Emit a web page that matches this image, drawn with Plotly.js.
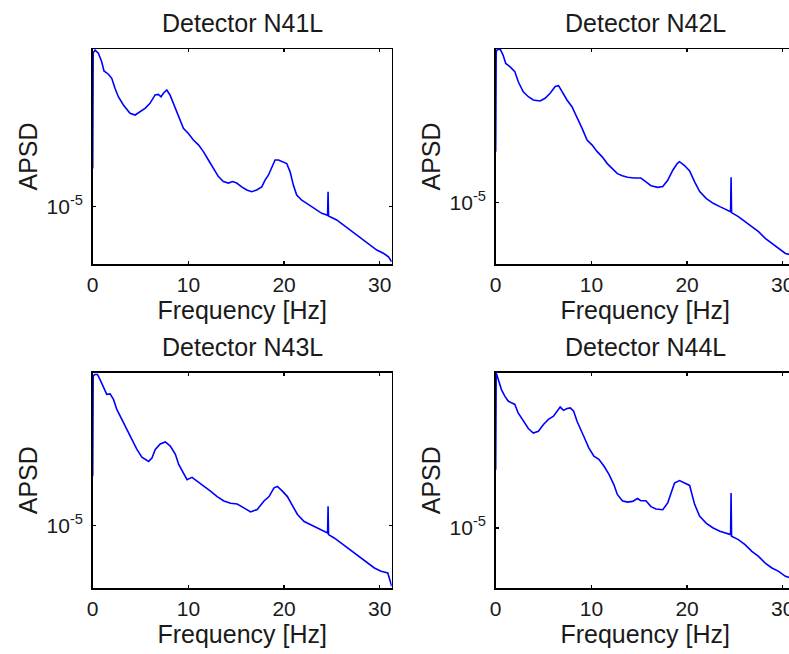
<!DOCTYPE html>
<html><head><meta charset="utf-8">
<script src="https://cdn.plot.ly/plotly-3.0.1.min.js"></script>
<style>html,body{margin:0;padding:0;overflow:hidden;background:#fff;} #chart{width:800px;height:654px;}</style>
</head><body><div id="chart"></div>
<script>
const detectors = ['Detector N41L', 'Detector N42L', 'Detector N43L', 'Detector N44L'];
const xTickVals = [0, 10, 20, 30];
const xTickText = ['0', '10', '20', '30'];
const yTickVals = [1e-5];
const yTickText = ['10<sup>-5</sup>'];

const freqN41 = [0, 0.05, 0.24, 0.59, 0.94, 1.18, 1.64, 1.99, 2.33, 2.68, 3.21, 3.90, 4.43, 4.95, 5.47, 5.99, 6.52, 6.86, 7.14, 7.39, 7.74, 8.08, 8.43, 8.78, 9.13, 9.48, 10.0, 10.52, 11.05, 11.57, 12.09, 12.61, 13.14, 13.66, 14.18, 14.63, 15.05, 15.57, 16.10, 16.62, 17.14, 17.67, 18.01, 18.36, 18.71, 19.06, 19.41, 19.76, 20.28, 20.63, 20.98, 21.32, 21.85, 22.37, 22.89, 23.41, 23.94, 24.46, 24.55, 24.6, 24.65, 25.5, 26.2, 26.9, 27.6, 28.29, 28.99, 29.69, 30.38, 30.91, 31.25];
const apsdN41 = [1.49e-5, 5.0e-5, 5.15e-5, 4.98e-5, 4.56e-5, 4.14e-5, 4.00e-5, 3.83e-5, 3.45e-5, 3.16e-5, 2.90e-5, 2.66e-5, 2.61e-5, 2.70e-5, 2.80e-5, 2.95e-5, 3.22e-5, 3.24e-5, 3.16e-5, 3.28e-5, 3.39e-5, 3.22e-5, 2.95e-5, 2.75e-5, 2.48e-5, 2.27e-5, 2.15e-5, 2.01e-5, 1.91e-5, 1.78e-5, 1.63e-5, 1.49e-5, 1.37e-5, 1.30e-5, 1.28e-5, 1.30e-5, 1.28e-5, 1.23e-5, 1.19e-5, 1.17e-5, 1.19e-5, 1.23e-5, 1.32e-5, 1.39e-5, 1.52e-5, 1.63e-5, 1.63e-5, 1.60e-5, 1.57e-5, 1.44e-5, 1.25e-5, 1.13e-5, 1.07e-5, 1.035e-5, 1.00e-5, 0.966e-5, 0.933e-5, 0.917e-5, 0.91e-5, 1.17e-5, 0.907e-5, 0.870e-5, 0.825e-5, 0.783e-5, 0.743e-5, 0.705e-5, 0.669e-5, 0.635e-5, 0.614e-5, 0.592e-5, 0.562e-5];

const freqN42 = [0, 0.05, 0.18, 0.49, 0.77, 1.05, 1.48, 2.0, 2.35, 2.88, 3.41, 3.93, 4.64, 5.16, 5.69, 6.22, 6.57, 6.92, 7.45, 7.97, 8.5, 9.03, 9.55, 10.08, 10.61, 11.13, 11.66, 12.19, 12.72, 13.24, 13.77, 14.47, 15.17, 15.70, 16.23, 16.93, 17.46, 17.98, 18.51, 18.97, 19.21, 19.74, 20.27, 20.79, 21.32, 22.02, 22.73, 23.43, 24.13, 24.55, 24.6, 24.65, 25.36, 26.06, 26.77, 27.47, 28.17, 28.87, 29.57, 30.28, 30.91, 31.25];
const apsdN42 = [1.70e-5, 4.84e-5, 4.95e-5, 4.95e-5, 4.67e-5, 4.28e-5, 4.14e-5, 3.93e-5, 3.54e-5, 3.18e-5, 3.02e-5, 2.92e-5, 2.89e-5, 2.97e-5, 3.13e-5, 3.36e-5, 3.39e-5, 3.18e-5, 2.92e-5, 2.72e-5, 2.45e-5, 2.17e-5, 1.92e-5, 1.82e-5, 1.70e-5, 1.61e-5, 1.50e-5, 1.43e-5, 1.35e-5, 1.32e-5, 1.30e-5, 1.29e-5, 1.29e-5, 1.24e-5, 1.19e-5, 1.17e-5, 1.18e-5, 1.26e-5, 1.40e-5, 1.50e-5, 1.53e-5, 1.47e-5, 1.39e-5, 1.24e-5, 1.12e-5, 1.04e-5, 0.99e-5, 0.956e-5, 0.923e-5, 0.907e-5, 1.30e-5, 0.898e-5, 0.861e-5, 0.817e-5, 0.775e-5, 0.736e-5, 0.686e-5, 0.651e-5, 0.618e-5, 0.586e-5, 0.576e-5, 0.57e-5];

const freqN43 = [0, 0.05, 0.21, 0.49, 0.77, 1.12, 1.47, 1.82, 2.17, 2.52, 3.04, 3.57, 4.09, 4.62, 5.14, 5.84, 6.19, 6.54, 7.06, 7.59, 8.11, 8.64, 8.99, 9.51, 9.86, 10.38, 10.91, 11.61, 12.31, 13.01, 13.71, 14.41, 15.10, 15.80, 16.50, 17.20, 17.90, 18.43, 18.95, 19.30, 19.83, 20.35, 20.87, 21.40, 22.10, 22.80, 23.50, 24.20, 24.55, 24.6, 24.65, 25.24, 25.94, 26.64, 27.34, 28.04, 28.74, 29.44, 30.14, 30.84, 31.25];
const apsdN43 = [1.67e-5, 4.76e-5, 4.84e-5, 4.84e-5, 4.59e-5, 4.21e-5, 3.93e-5, 3.95e-5, 3.73e-5, 3.36e-5, 3.02e-5, 2.72e-5, 2.45e-5, 2.21e-5, 2.04e-5, 1.95e-5, 2.02e-5, 2.21e-5, 2.34e-5, 2.39e-5, 2.29e-5, 2.10e-5, 1.89e-5, 1.70e-5, 1.61e-5, 1.65e-5, 1.59e-5, 1.50e-5, 1.43e-5, 1.35e-5, 1.29e-5, 1.26e-5, 1.25e-5, 1.20e-5, 1.15e-5, 1.18e-5, 1.29e-5, 1.35e-5, 1.48e-5, 1.50e-5, 1.43e-5, 1.35e-5, 1.24e-5, 1.12e-5, 1.04e-5, 1.007e-5, 0.972e-5, 0.939e-5, 0.923e-5, 1.22e-5, 0.907e-5, 0.876e-5, 0.831e-5, 0.789e-5, 0.749e-5, 0.710e-5, 0.674e-5, 0.640e-5, 0.618e-5, 0.607e-5, 0.528e-5];

const freqN44 = [0, 0.05, 0.14, 0.35, 0.6, 0.95, 1.3, 1.65, 2.0, 2.35, 2.88, 3.41, 3.93, 4.46, 4.99, 5.51, 6.04, 6.39, 6.74, 7.09, 7.45, 7.80, 8.15, 8.50, 8.85, 9.2, 9.73, 10.26, 10.78, 11.31, 11.84, 12.36, 12.71, 13.24, 13.77, 14.30, 14.82, 15.17, 15.70, 16.23, 16.75, 17.46, 17.98, 18.34, 18.69, 19.21, 19.74, 20.27, 20.79, 21.32, 22.02, 22.73, 23.43, 24.13, 24.55, 24.6, 24.65, 25.36, 26.06, 26.77, 27.47, 28.17, 28.87, 29.57, 30.28, 30.91, 31.25];
const apsdN44 = [1.84e-5, 5.05e-5, 4.92e-5, 4.64e-5, 4.25e-5, 3.97e-5, 3.77e-5, 3.70e-5, 3.64e-5, 3.33e-5, 3.05e-5, 2.83e-5, 2.70e-5, 2.75e-5, 2.95e-5, 3.11e-5, 3.22e-5, 3.39e-5, 3.54e-5, 3.42e-5, 3.49e-5, 3.51e-5, 3.39e-5, 3.05e-5, 2.80e-5, 2.61e-5, 2.31e-5, 2.12e-5, 2.05e-5, 1.91e-5, 1.75e-5, 1.57e-5, 1.42e-5, 1.33e-5, 1.31e-5, 1.32e-5, 1.36e-5, 1.33e-5, 1.33e-5, 1.25e-5, 1.22e-5, 1.21e-5, 1.30e-5, 1.44e-5, 1.60e-5, 1.64e-5, 1.60e-5, 1.56e-5, 1.28e-5, 1.13e-5, 1.05e-5, 1.00e-5, 0.966e-5, 0.942e-5, 0.933e-5, 1.44e-5, 0.917e-5, 0.885e-5, 0.840e-5, 0.783e-5, 0.743e-5, 0.693e-5, 0.658e-5, 0.635e-5, 0.603e-5, 0.592e-5, 0.58e-5];

const freqs = [freqN41, freqN42, freqN43, freqN44];
const apsds = [apsdN41, apsdN42, apsdN43, apsdN44];

// ---- layout (pixel geometry of the 800 x 654 canvas, page shows 789 px) ----
const W = 800, H = 654;
const FONT = 'Liberation Sans, Arial, Helvetica, sans-serif';
const TXT = '#1a1a1a';
const panels = [
  {x0: 92.7, x1: 391.7, y0: 49, y1: 264, yr: [-5.2606, -4.2833]},
  {x0: 495.7, x1: 794.7, y0: 49, y1: 264, yr: [-5.2803, -4.303]},
  {x0: 92.7, x1: 391.7, y0: 372.5, y1: 588, yr: [-5.2848, -4.3061]},
  {x0: 495.7, x1: 794.7, y0: 372.5, y1: 588, yr: [-5.2727, -4.294]}
];

const traces = [];
const layout = {
  width: W, height: H,
  margin: {l: 0, r: 0, t: 0, b: 0},
  paper_bgcolor: '#fff', plot_bgcolor: '#fff',
  showlegend: false,
  font: {family: FONT, color: TXT},
  annotations: []
};

panels.forEach((p, i) => {
  const n = i === 0 ? '' : String(i + 1);
  traces.push({
    x: freqs[i], y: apsds[i],
    xaxis: 'x' + n, yaxis: 'y' + n,
    type: 'scatter', mode: 'lines',
    line: {color: '#0000ff', width: 1.6},
    hoverinfo: 'x+y'
  });
  layout['xaxis' + n] = {
    domain: [p.x0 / W, p.x1 / W],
    anchor: 'y' + n,
    range: [0, 31.25],
    tickmode: 'array', tickvals: xTickVals, ticktext: xTickText,
    ticks: 'inside', ticklen: 3, tickwidth: 1.5, tickcolor: '#000',
    showline: true, linecolor: '#000', linewidth: 1.5, mirror: 'ticks',
    showgrid: false, zeroline: false, automargin: false,
    ticklabelstandoff: 1,
    tickfont: {family: FONT, size: 21, color: TXT},
    title: {text: 'Frequency [Hz]', font: {family: FONT, size: 25, color: TXT}, standoff: 1}
  };
  layout['yaxis' + n] = {
    domain: [1 - p.y1 / H, 1 - p.y0 / H],
    anchor: 'x' + n,
    type: 'log',
    range: p.yr,
    tickmode: 'array', tickvals: yTickVals, ticktext: yTickText,
    ticks: 'inside', ticklen: 3, tickwidth: 1.5, tickcolor: '#000',
    showline: true, linecolor: '#000', linewidth: 1.5, mirror: 'ticks',
    showgrid: false, zeroline: false, automargin: false,
    ticklabelstandoff: 4,
    tickfont: {family: FONT, size: 21, color: TXT},
    title: {text: 'APSD', font: {family: FONT, size: 25, color: TXT}, standoff: 2}
  };
  layout.annotations.push({
    text: detectors[i], xref: 'paper', yref: 'paper',
    x: ((p.x0 + p.x1) / 2) / W, y: 1 - (p.y0 - 26) / H,
    xanchor: 'center', yanchor: 'middle', showarrow: false,
    font: {family: FONT, size: 25, color: TXT}
  });
});

Plotly.newPlot('chart', traces, layout, {staticPlot: true, displayModeBar: false});
</script>
</body></html>
